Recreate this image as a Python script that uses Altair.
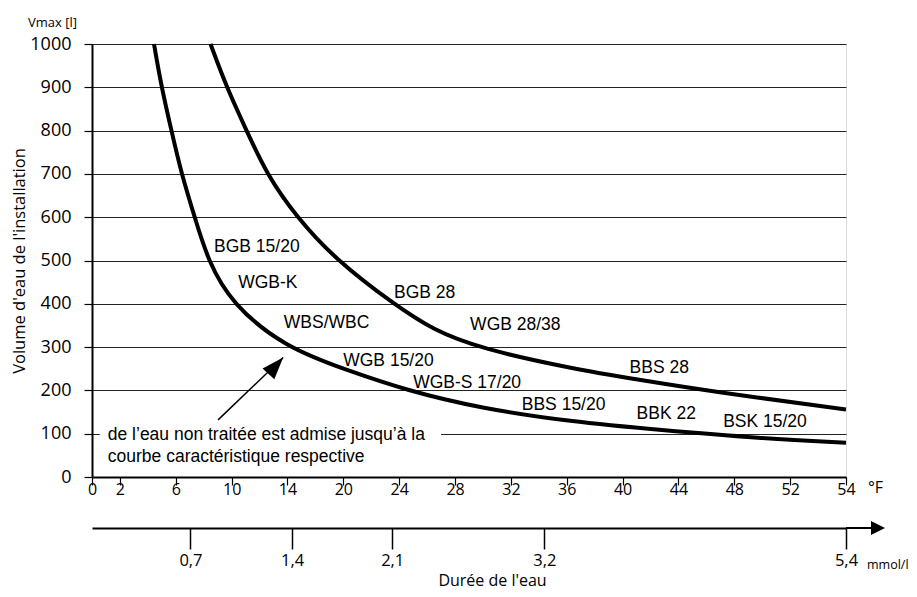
import altair as alt
import numpy as np
import pandas as pd

# ---------------- data ----------------
# °F axis: tick labels and the (non-uniform) slot where each one sits
F_TICKS = [0, 2, 6, 10, 14, 20, 24, 28, 32, 36, 40, 44, 48, 52, 54]
F_SLOTS = [0, 0.5, 1.5, 2.5, 3.5, 4.5, 5.5, 6.5, 7.5, 8.5, 9.5, 10.5, 11.5, 12.5, 13.5]

Y_TICKS = [0, 100, 200, 300, 400, 500, 600, 700, 800, 900, 1000]

# lower curve (°F, Vmax in litres)
LOW_F = [4.44, 4.98, 5.69, 6.41, 7.36, 8.3, 10.0, 13.8, 20.24, 24.54, 29.79, 36.25, 42.7, 49.86, 54]
LOW_V = [1000, 900, 800, 700, 600, 500, 400, 300, 247, 200, 159, 128, 108.5, 89.5, 79]
# upper curve
UP_F = [8.49, 9.64, 11.07, 12.5, 14.98, 19.28, 23.58, 26.44, 29.79, 36.25, 41.27, 46.5, 54]
UP_V = [1000, 900, 800, 700, 600, 500, 400, 339, 297, 251, 224, 197, 156]

LABELS = ["BGB 15/20", "WGB-K", "BGB 28", "WBS/WBC", "WGB 28/38", "WGB 15/20",
          "WGB-S 17/20", "BBS 28", "BBS 15/20", "BBK 22", "BSK 15/20"]
LABEL_F = [8.74, 10.47, 23.63, 13.74, 29.08, 19.99, 25.0, 40.5, 32.78, 41.0, 47.2]
LABEL_V = [532, 448, 426, 355, 351, 268, 217, 252, 166, 146, 128]

NOTE_LINES = ["de l’eau non traitée est admise jusqu’à la", "courbe caractéristique respective"]
NOTE_F = [1.13, 1.13]
NOTE_V = [97, 47]
NOTE_BOX_F = [0.55, 27.0]
NOTE_BOX_V = [88, 112]

ARROW_F = [9.03, 13.69]
ARROW_V = [132, 276]

MMOL_LABELS = ["0,7", "1,4", "2,1", "3,2", "5,4"]
MMOL_AT_F = [7.05, 14.5, 23.5, 34.4, 54]

# ---------------- helpers ----------------
def slot(f):
    return np.interp(np.asarray(f, dtype=float), F_TICKS, F_SLOTS)


def label_expr(vals, labels):
    arr_l = ",".join("'" + l + "'" for l in labels)
    arr_v = ",".join(repr(float(v)) for v in vals)
    return "[" + arr_l + "][indexof([" + arr_v + "], datum.value)]"


W, H = 754, 433
PAD_L, PAD_T = 84, 36
PAD_R = 901 - PAD_L - W
PAD_B = 581 - PAD_T - H
AXIS_FONT = "Open Sans"
TEXT_FONT = "Liberation Sans"

curves = pd.concat([
    pd.DataFrame({"pos": slot(LOW_F), "V": LOW_V, "curve": "low"}),
    pd.DataFrame({"pos": slot(UP_F), "V": UP_V, "curve": "up"}),
])
labels_df = pd.DataFrame({"pos": slot(LABEL_F), "V": LABEL_V, "text": LABELS})
note_df = pd.DataFrame({"pos": slot(NOTE_F), "V": NOTE_V, "text": NOTE_LINES})
box_df = pd.DataFrame({"pos": [float(slot(NOTE_BOX_F[0]))], "pos2": [float(slot(NOTE_BOX_F[1]))],
                       "V": [NOTE_BOX_V[0]], "V2": [NOTE_BOX_V[1]]})
arrow_df = pd.DataFrame({"pos": [float(slot(ARROW_F[0]))], "pos2": [float(slot(ARROW_F[1]))],
                         "V": [ARROW_V[0]], "V2": [ARROW_V[1]]})
tip_df = pd.DataFrame({"pos": [float(slot(ARROW_F[1]))], "V": [ARROW_V[1]]})
mm_pos = [float(v) for v in slot(MMOL_AT_F)]
mm_df = pd.DataFrame({"pos": mm_pos})

f_slots = [float(v) for v in F_SLOTS]

x_scale = alt.Scale(domain=[0, 13.5], nice=False, zero=False)
y_scale = alt.Scale(domain=[0, 1000], nice=False)

y_enc = alt.Y(
    "V:Q", scale=y_scale,
    axis=alt.Axis(values=Y_TICKS, format="d", grid=True, gridColor="#222222", gridWidth=1,
                  tickSize=8, tickColor="black", tickWidth=1.2,
                  domainColor="black", domainWidth=2,
                  labelFont=AXIS_FONT, labelFontSize=18, labelColor="black", labelPadding=13,
                  title="Volume d'eau de l'installation", titleFont=AXIS_FONT,
                  titleFontSize=16.5, titleFontWeight="normal", titleColor="black",
                  titlePadding=2),
)

f_axis = alt.Axis(values=f_slots, labelExpr=label_expr(f_slots, [str(t) for t in F_TICKS]),
                  tickSize=8, tickColor="black", tickWidth=1.2,
                  domainColor="black", domainWidth=2,
                  labelFont=AXIS_FONT, labelFontSize=16, labelColor="black",
                  labelPadding=-4, labelFlush=False, labelOverlap=False,
                  grid=False, title="")

mm_axis = alt.Axis(orient="bottom", offset=51, values=mm_pos,
                   labelExpr=label_expr(mm_pos, MMOL_LABELS),
                   tickSize=21, tickColor="black", tickWidth=1.5,
                   domainColor="black", domainWidth=2,
                   labelFont=AXIS_FONT, labelFontSize=16.5, labelColor="black",
                   labelPadding=3, labelFlush=False, labelOverlap=False, grid=False,
                   title="Durée de l'eau", titleFont=AXIS_FONT, titleFontSize=16,
                   titleFontWeight="normal", titleColor="black", titlePadding=3.5,
                   titleX=400)

curve_layer = alt.Chart(curves).mark_line(color="black", strokeWidth=4, interpolate="basis").encode(
    x=alt.X("pos:Q", scale=x_scale, axis=f_axis),
    y=y_enc,
    detail="curve:N",
)

mm_layer = alt.Chart(mm_df).mark_point(opacity=0).encode(
    x=alt.X("pos:Q", scale=x_scale, axis=mm_axis),
    y=alt.value(0),
)

box_layer = alt.Chart(box_df).mark_rect(color="white").encode(
    x=alt.X("pos:Q", scale=x_scale, axis=None), x2="pos2:Q",
    y=y_enc, y2="V2:Q",
)

label_layer = alt.Chart(labels_df).mark_text(
    align="left", baseline="middle", font=TEXT_FONT, fontSize=17.5, color="black"
).encode(
    x=alt.X("pos:Q", scale=x_scale, axis=None), y=y_enc, text="text:N",
)

note_layer = alt.Chart(note_df).mark_text(
    align="left", baseline="middle", font=TEXT_FONT, fontSize=17.5, color="black"
).encode(
    x=alt.X("pos:Q", scale=x_scale, axis=None), y=y_enc, text="text:N",
)

arrow_layer = alt.Chart(arrow_df).mark_rule(color="black", strokeWidth=1.5).encode(
    x=alt.X("pos:Q", scale=x_scale, axis=None), x2="pos2:Q",
    y=y_enc, y2="V2:Q",
)

tip_layer = alt.Chart(tip_df).mark_point(
    shape="M0,0L0.36,1L-0.36,1Z", filled=True, size=1936, angle=42,
    color="black", opacity=1, strokeWidth=0,
).encode(
    x=alt.X("pos:Q", scale=x_scale, axis=None), y=y_enc,
)

# extension of the mmol/l axis with its arrow, units and the top-left unit label
deco = alt.Chart(pd.DataFrame({"a": [0]}))
ext_rule = deco.mark_rule(color="black", strokeWidth=2).encode(
    x=alt.value(W), x2=alt.value(W + 26), y=alt.value(H + 51))
ext_head = deco.mark_point(shape="M-1,-1L1,0L-1,1Z", filled=True, size=196,
                           color="black", opacity=1, strokeWidth=0).encode(
    x=alt.value(W + 32), y=alt.value(H + 51))
degf = deco.mark_text(text="°F", align="left", baseline="middle", font=AXIS_FONT,
                      fontSize=16, color="black").encode(x=alt.value(W + 22), y=alt.value(H + 11))
mmol = deco.mark_text(text="mmol/l", align="left", baseline="alphabetic", font=AXIS_FONT,
                      fontSize=12.5, color="black").encode(x=alt.value(W + 21), y=alt.value(H + 92))
vmax = deco.mark_text(text="Vmax [l]", align="left", baseline="middle", font=AXIS_FONT,
                      fontSize=13, color="black").encode(x=alt.value(-64), y=alt.value(-21))

chart = alt.layer(
    curve_layer, mm_layer, box_layer, label_layer, note_layer, arrow_layer, tip_layer,
    ext_rule, ext_head, degf, mmol, vmax,
).resolve_axis(x="independent").properties(
    width=W, height=H,
    autosize=alt.AutoSizeParams(type="none"),
    padding={"left": PAD_L, "top": PAD_T, "right": PAD_R, "bottom": PAD_B},
).configure_view(stroke="black", strokeWidth=1).configure(background="white")

chart.save("out.html", embed_options={"renderer": "svg", "actions": False})
